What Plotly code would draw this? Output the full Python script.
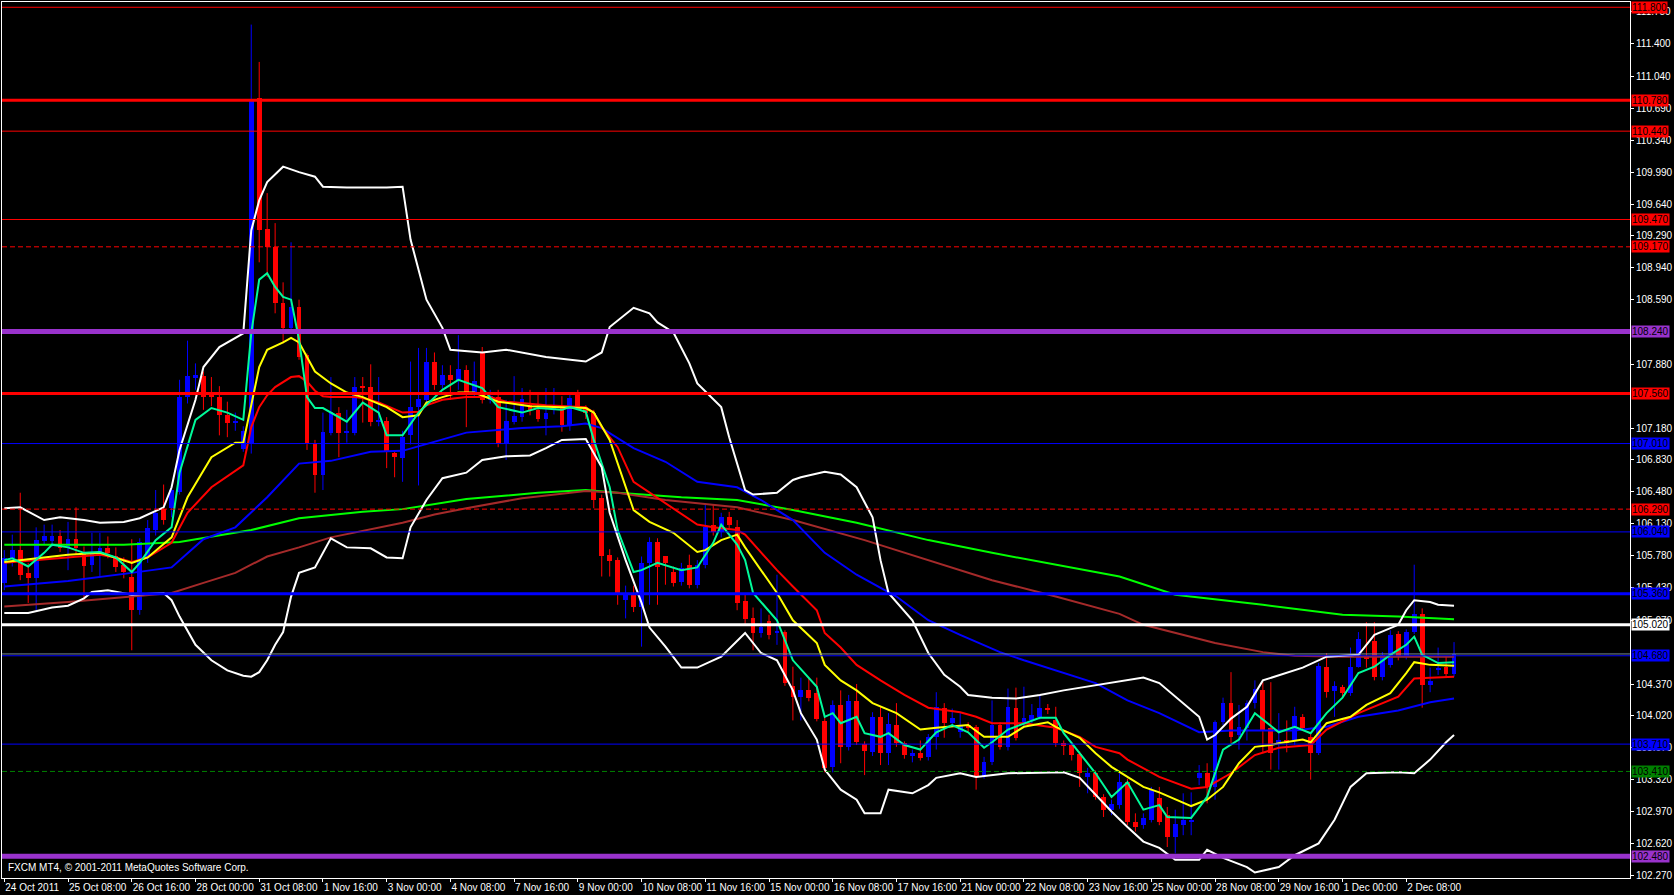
import plotly.graph_objects as go

# ---------------- data (EURJPY H4, bar index 0..182) ----------------
open_ = [105.48,105.75,105.84,105.59,105.53,105.94,105.94,105.99,105.87,105.96,
         105.82,105.68,105.81,105.86,105.78,105.68,105.55,105.18,105.76,106.06,
         106.29,106.30,106.48,107.52,107.73,107.75,107.55,107.52,107.32,107.24,
         106.95,107.00,110.80,109.37,109.17,108.55,108.28,108.51,107.98,107.02,
         106.66,107.13,107.35,107.13,107.13,107.64,107.63,107.25,107.26,106.91,
         106.85,107.10,107.41,107.49,107.90,107.65,107.76,107.71,107.82,107.58,
         108.00,107.49,107.52,107.01,107.25,107.30,107.43,107.38,107.28,107.40,
         107.42,107.20,107.57,107.41,107.35,106.41,105.79,105.73,105.29,105.37,
         105.22,105.70,105.93,105.77,105.60,105.49,105.68,105.46,105.68,106.12,
         106.04,106.20,106.09,105.28,105.10,104.93,105.06,104.93,104.94,104.35,
         104.23,104.30,104.27,103.96,103.46,104.14,103.68,104.18,103.71,103.62,
         104.01,103.61,103.92,103.72,103.59,103.61,103.57,103.79,104.11,103.94,
         103.84,103.92,103.90,103.36,103.51,103.92,103.68,104.11,103.94,103.97,
         104.01,104.11,103.97,103.72,103.70,103.60,103.35,103.39,103.13,102.99,
         103.04,103.29,102.85,102.82,102.88,103.12,102.93,102.69,102.82,102.85,
         103.34,103.39,103.24,103.95,104.16,103.81,103.89,104.16,104.30,103.89,
         103.72,103.76,103.76,104.01,103.79,103.61,104.56,104.29,104.34,104.27,
         104.56,104.67,104.84,104.45,104.58,104.92,104.67,104.94,105.14,104.36,
         104.52,104.56,104.48]
high = [105.84,106.01,106.47,105.70,106.09,106.12,106.12,106.06,106.15,106.31,
        105.88,106.03,106.03,105.99,105.87,105.76,105.96,105.97,106.17,106.50,
        106.56,106.56,107.71,108.14,107.89,107.80,107.74,107.64,107.47,107.35,
        107.20,111.61,111.20,109.76,109.43,108.78,109.22,108.59,108.00,107.05,
        107.35,107.74,107.41,107.38,107.74,107.74,107.88,107.74,107.30,106.93,
        107.15,107.91,108.06,108.06,108.01,107.87,107.87,108.20,107.87,107.91,
        108.07,107.60,107.60,107.49,107.75,107.62,107.60,107.57,107.62,107.62,
        107.53,107.57,107.60,107.43,107.38,106.45,105.85,105.76,105.45,105.45,
        105.77,105.98,105.97,105.77,105.66,105.70,105.79,105.73,106.34,106.34,
        106.25,106.26,106.17,105.35,105.21,105.20,105.13,105.57,104.96,104.56,
        104.44,104.44,104.44,104.00,104.19,104.30,104.25,104.37,103.74,104.06,
        104.12,104.05,104.16,103.74,103.65,103.75,103.82,104.28,104.16,104.10,
        104.05,103.95,103.92,103.57,104.19,103.95,104.32,104.33,104.34,104.15,
        104.25,104.15,104.12,103.75,103.73,103.63,103.45,103.42,103.16,103.10,
        103.39,103.33,102.95,102.95,103.24,103.24,103.02,102.99,103.17,103.18,
        103.48,103.50,103.97,104.22,104.50,104.14,104.19,104.41,104.39,104.39,
        104.05,103.97,104.12,104.04,103.82,104.60,104.71,104.40,104.36,104.77,
        104.94,105.05,105.05,104.72,104.96,104.95,104.97,105.68,105.20,104.55,
        104.77,104.67,104.83]
low = [105.40,105.66,105.51,105.26,105.18,105.90,105.88,105.82,105.62,105.79,
       105.29,105.60,105.55,105.75,105.60,105.53,104.74,105.13,105.70,106.00,
       106.12,106.20,106.45,107.45,107.60,107.38,107.42,107.10,107.08,107.15,
       106.92,106.90,109.00,108.84,108.44,108.11,108.22,107.93,106.94,106.47,
       106.50,107.10,106.86,107.02,107.10,107.24,107.20,107.20,106.74,106.64,
       106.59,107.00,106.55,107.45,107.60,107.60,107.49,107.60,107.19,107.52,
       107.45,107.45,106.97,106.83,107.22,107.25,107.32,107.25,107.10,107.33,
       107.14,107.15,107.38,107.28,106.30,105.55,105.55,105.24,105.09,105.16,
       104.78,105.24,105.24,105.46,105.44,105.45,105.42,105.42,105.64,106.00,
       105.98,106.08,105.18,105.02,104.74,104.88,104.86,104.80,104.35,103.97,
       103.97,104.18,103.96,103.40,103.40,103.50,103.64,103.70,103.37,103.58,
       103.48,103.48,103.68,103.55,103.51,103.53,103.53,103.65,103.78,103.90,
       103.78,103.85,103.21,103.33,103.48,103.65,103.64,103.75,103.90,103.94,
       103.98,104.04,103.68,103.59,103.53,103.24,103.17,103.10,102.91,102.93,
       103.00,102.82,102.75,102.78,102.85,102.82,102.58,102.51,102.71,102.71,
       103.26,103.06,103.10,103.92,103.72,103.65,103.75,104.10,103.61,103.43,
       103.43,103.62,103.70,103.86,103.32,103.59,104.22,104.01,104.23,104.24,
       104.55,104.55,104.41,104.41,104.55,104.63,104.64,104.92,104.11,104.28,
       104.47,104.45,104.45]
close = [105.75,105.84,105.57,105.53,105.95,106.00,105.99,105.86,105.96,105.86,
         105.67,105.81,105.86,105.81,105.66,105.60,105.18,105.93,106.08,106.25,
         106.17,106.50,107.52,107.75,107.76,107.52,107.52,107.32,107.24,107.26,
         107.15,110.78,109.35,109.17,108.55,108.28,108.51,107.96,107.02,106.66,
         107.14,107.36,107.13,107.15,107.63,107.63,107.25,107.27,106.93,106.86,
         107.08,107.41,107.50,107.90,107.65,107.76,107.71,107.83,107.57,107.70,
         107.49,107.53,107.01,107.26,107.31,107.50,107.38,107.28,107.35,107.42,
         107.21,107.51,107.41,107.35,106.39,105.78,105.72,105.37,105.37,105.22,
         105.70,105.93,105.66,105.70,105.48,105.64,105.46,105.68,106.09,106.04,
         106.20,106.12,105.26,105.08,104.93,105.00,104.91,104.94,104.38,104.23,
         104.30,104.22,103.99,103.45,104.14,103.68,104.18,103.73,103.63,104.01,
         103.61,103.93,103.72,103.59,103.61,103.56,103.79,104.12,103.94,104.00,
         103.91,103.89,103.35,103.51,103.92,103.68,104.12,103.78,104.00,104.03,
         104.11,104.08,103.72,103.70,103.59,103.39,103.39,103.13,102.99,103.05,
         103.29,102.85,102.80,102.90,103.21,102.85,102.69,102.83,102.88,102.88,
         103.39,103.24,103.95,104.16,103.79,103.90,104.16,104.32,103.86,103.61,
         103.76,103.72,104.02,103.89,103.61,104.57,104.28,104.35,104.27,104.56,
         104.86,104.65,104.45,104.69,104.91,104.67,104.94,105.14,104.36,104.40,
         104.55,104.48,104.70]

# moving averages (bar index, price)
ma_fast_i = [0,1,3,5,6,8,10,12,14,16,17,19,21,22,24,26,28,30,31,32,33,34,35,36,37,38,39,40,43,45,47,48,50,52,55,57,60,62,65,67,70,71,73,74,76,77,79,80,82,84,85,87,89,90,92,93,94,97,99,102,103,104,105,107,108,110,111,113,115,117,119,121,123,124,126,130,132,133,135,137,139,141,143,145,146,149,151,153,155,157,160,162,164,166,168,170,172,174,176,177,178,180,182]
ma_fast_v = [105.73,105.75,105.66,105.81,105.90,105.87,105.81,105.82,105.76,105.60,105.70,105.95,106.09,106.69,107.27,107.40,107.35,107.27,108.22,108.81,108.88,108.73,108.62,108.59,108.15,107.52,107.40,107.40,107.25,107.46,107.35,107.10,107.10,107.35,107.60,107.71,107.62,107.41,107.35,107.40,107.38,107.41,107.36,107.05,106.53,106.06,105.60,105.62,105.70,105.65,105.62,105.65,105.92,106.12,105.90,105.73,105.37,105.07,104.63,104.34,104.01,104.05,103.94,104.01,103.83,103.79,103.83,103.70,103.65,103.84,103.92,103.84,103.67,103.73,103.87,104.00,104.00,103.83,103.61,103.39,103.13,103.29,102.99,103.04,102.91,102.90,103.13,103.65,103.76,104.05,103.84,103.90,103.83,104.05,104.22,104.49,104.56,104.69,104.80,104.89,104.69,104.60,104.61]

ma_yellow_i = [0,8,12,16,18,21,23,26,29,30,31,32,33,35,36,37,38,39,41,43,45,48,50,52,53,55,57,59,62,66,73,74,76,78,79,81,84,87,88,90,92,93,95,97,99,102,103,105,107,109,112,115,117,121,123,126,128,131,132,135,137,139,141,143,145,149,151,153,155,157,159,160,163,164,166,169,171,174,176,177,179,182]
ma_yellow_v = [105.71,105.79,105.81,105.70,105.76,105.98,106.42,106.86,107.02,107.02,107.43,107.85,108.04,108.12,108.17,108.12,107.96,107.80,107.67,107.57,107.52,107.41,107.30,107.32,107.46,107.52,107.57,107.57,107.47,107.42,107.40,107.35,107.05,106.53,106.28,106.15,106.03,105.82,105.84,105.95,106.01,105.87,105.62,105.37,105.07,104.82,104.58,104.41,104.30,104.16,104.05,103.87,103.89,103.92,103.79,103.79,103.90,103.95,103.90,103.78,103.61,103.46,103.35,103.24,103.18,103.03,103.10,103.24,103.50,103.68,103.70,103.72,103.76,103.73,103.94,104.01,104.14,104.27,104.49,104.61,104.58,104.57]

ma_red_i = [0,8,12,14,16,18,21,23,26,30,31,32,33,34,35,36,37,38,39,40,41,44,45,47,50,52,53,55,58,61,63,68,73,74,75,77,79,81,84,87,89,92,93,95,97,99,102,103,105,107,110,113,116,120,122,124,128,132,135,137,140,141,145,149,151,154,157,160,164,166,170,175,177,179,182]
ma_red_v = [105.70,105.76,105.79,105.76,105.71,105.76,105.92,106.25,106.53,106.77,107.19,107.41,107.54,107.63,107.69,107.74,107.75,107.69,107.59,107.53,107.52,107.52,107.51,107.46,107.35,107.36,107.43,107.49,107.52,107.52,107.47,107.43,107.41,107.35,107.19,106.97,106.59,106.47,106.30,106.12,106.09,106.06,106.01,105.81,105.62,105.44,105.18,104.93,104.77,104.58,104.41,104.25,104.11,104.06,104.01,103.94,103.94,103.89,103.79,103.68,103.61,103.54,103.35,103.22,103.24,103.39,103.59,103.67,103.70,103.87,104.05,104.23,104.43,104.44,104.45]

ma_blue_i = [0,8,16,21,25,29,33,37,41,46,50,54,58,65,70,73,75,79,83,87,92,95,99,103,107,112,116,120,125,128,132,137,141,145,150,154,162,166,170,175,179,182]
ma_blue_v = [105.44,105.50,105.59,105.65,105.96,106.09,106.42,106.79,106.82,106.92,106.93,107.03,107.13,107.18,107.20,107.23,107.18,106.96,106.81,106.59,106.53,106.39,106.17,105.81,105.57,105.33,105.07,104.91,104.72,104.63,104.52,104.38,104.19,104.05,103.84,103.86,103.86,103.90,104.01,104.08,104.17,104.21]

ma_brown_i = [0,8,16,21,25,29,33,37,41,46,50,54,58,65,73,77,83,92,99,108,116,124,132,140,143,152,158,162,168,182]
ma_brown_v = [105.22,105.27,105.33,105.37,105.48,105.59,105.77,105.87,105.98,106.07,106.14,106.23,106.30,106.41,106.49,106.47,106.39,106.31,106.17,105.95,105.73,105.51,105.33,105.14,105.02,104.82,104.72,104.68,104.67,104.67]

ma_lime_i = [0,15,22,31,37,45,50,58,67,73,77,85,92,99,107,116,124,132,140,147,158,168,175,182]
ma_lime_v = [105.90,105.90,105.93,106.06,106.19,106.26,106.29,106.40,106.47,106.50,106.47,106.42,106.39,106.28,106.14,105.95,105.81,105.68,105.55,105.35,105.24,105.13,105.11,105.08]

bb_up_i = [0,2,5,7,10,12,15,17,20,21,22,24,25,27,30,31,32,33,35,37,39,40,43,48,50,51,53,55,56,60,63,68,73,75,76,79,81,82,84,86,87,90,91,93,94,97,99,100,103,105,107,109,110,111,114,116,118,120,121,124,127,130,133,136,139,143,145,147,150,151,152,154,156,158,161,163,166,170,172,175,176,177,179,180,182]
bb_up_v = [106.30,106.31,106.17,106.20,106.17,106.14,106.15,106.19,106.31,106.53,106.94,107.49,107.85,108.07,108.22,109.35,109.68,109.88,110.05,109.99,109.94,109.83,109.82,109.82,109.83,109.25,108.59,108.28,108.04,108.01,108.04,107.96,107.91,108.01,108.29,108.50,108.44,108.34,108.23,107.89,107.67,107.41,107.08,106.50,106.45,106.47,106.61,106.64,106.70,106.67,106.53,106.20,105.73,105.37,105.07,104.71,104.47,104.34,104.25,104.22,104.21,104.25,104.30,104.34,104.38,104.44,104.38,104.23,104.01,103.76,103.81,103.99,104.12,104.41,104.49,104.55,104.67,104.69,104.91,105.02,105.18,105.29,105.27,105.24,105.23]

bb_lo_i = [0,3,6,8,10,11,13,15,16,20,21,22,23,24,26,28,30,31,32,33,34,35,36,37,39,41,43,46,48,50,51,53,55,58,60,63,66,68,70,73,75,76,78,80,81,83,85,87,90,93,95,97,99,100,102,103,105,107,108,110,111,114,116,117,120,122,126,130,133,135,137,139,141,143,145,147,150,151,153,156,157,160,162,165,167,169,171,175,177,179,181,182]
bb_lo_v = [105.15,105.15,105.21,105.23,105.31,105.38,105.40,105.37,105.35,105.37,105.29,105.11,104.96,104.80,104.63,104.52,104.46,104.45,104.50,104.63,104.80,104.94,105.33,105.59,105.65,105.97,105.87,105.86,105.76,105.75,106.09,106.39,106.63,106.69,106.83,106.87,106.88,106.96,107.05,107.06,106.75,106.25,105.73,105.26,104.99,104.78,104.55,104.55,104.67,104.93,104.71,104.63,104.30,104.05,103.76,103.43,103.21,103.10,102.95,102.95,103.21,103.17,103.26,103.34,103.39,103.35,103.39,103.40,103.40,103.34,103.15,102.97,102.80,102.64,102.57,102.44,102.44,102.55,102.46,102.36,102.30,102.36,102.49,102.62,102.88,103.24,103.39,103.40,103.39,103.54,103.73,103.81]

# horizontal price levels: price, colour, width, dash
level_price = [111.80,110.78,110.44,109.47,109.17,108.24,107.56,107.01,106.29,106.04,105.36,105.02,104.68,103.71,103.41,102.48]
level_color = ["#FF0000","#FF0000","#FF0000","#FF0000","#FF0000","#9932CC","#FF0000","#0000FF","#FF0000","#0000FF","#0000FF","#FFFFFF","#0000FF","#0000FF","#008000","#9932CC"]
level_width = [1,3,1,1,1,5,3,1,1,1,3,3,1,1,1,5]
level_dash = ["solid","solid","solid","solid","dash","solid","solid","solid","dash","solid","solid","solid","solid","solid","dash","solid"]
bid_price = 104.70

y_ticks = [111.750,111.400,111.040,110.690,110.340,109.990,109.640,109.290,108.940,108.590,
           107.880,107.180,106.830,106.480,106.130,105.780,105.430,105.070,104.370,104.020,
           103.670,103.320,102.970,102.620,102.270]
x_tick_idx = list(range(0, 177, 8))
x_tick_text = ["24 Oct 2011","25 Oct 08:00","26 Oct 16:00","28 Oct 00:00","31 Oct 08:00",
               "1 Nov 16:00","3 Nov 00:00","4 Nov 08:00","7 Nov 16:00","9 Nov 00:00",
               "10 Nov 08:00","11 Nov 16:00","15 Nov 00:00","16 Nov 08:00","17 Nov 16:00",
               "21 Nov 00:00","22 Nov 08:00","23 Nov 16:00","25 Nov 00:00","28 Nov 08:00",
               "29 Nov 16:00","1 Dec 00:00","2 Dec 08:00"]

# ---------------- figure ----------------
FONT = "Liberation Sans, Arial, sans-serif"
N = len(close)
idx = list(range(N))
fig = go.Figure()

def wick_trace(sel, color):
    xs, ys = [], []
    for i in sel:
        xs += [i, i, None]
        ys += [low[i], high[i], None]
    return go.Scatter(x=xs, y=ys, mode="lines", line=dict(color=color, width=1),
                      hoverinfo="skip")

bull = [i for i in idx if close[i] >= open_[i]]
bear = [i for i in idx if close[i] < open_[i]]
fig.add_trace(wick_trace(bull, "#0000FF"))
fig.add_trace(wick_trace(bear, "#FF0000"))

def body_trace(sel, color):
    base = [min(open_[i], close[i]) for i in sel]
    h = [max(abs(close[i] - open_[i]), 0.012) for i in sel]
    return go.Bar(x=sel, y=h, base=base, width=0.6, marker=dict(color=color, line=dict(width=0)))

fig.add_trace(body_trace(bull, "#0000FF"))
fig.add_trace(body_trace(bear, "#FF0000"))

for xi, yi, col in [(ma_lime_i, ma_lime_v, "#00FF00"), (ma_brown_i, ma_brown_v, "#A52A2A"),
                    (ma_blue_i, ma_blue_v, "#0000FF"), (ma_red_i, ma_red_v, "#FF0000"),
                    (ma_yellow_i, ma_yellow_v, "#FFFF00"), (ma_fast_i, ma_fast_v, "#00FA9A"),
                    (bb_up_i, bb_up_v, "#FFFFFF"), (bb_lo_i, bb_lo_v, "#FFFFFF")]:
    fig.add_trace(go.Scatter(x=xi, y=yi, mode="lines", line=dict(color=col, width=2)))

shapes = [dict(type="line", xref="paper", x0=0, x1=1, yref="y", y0=bid_price, y1=bid_price,
               line=dict(color="#778899", width=1), layer="above")]
annotations = []
for p, c, w, d in zip(level_price, level_color, level_width, level_dash):
    shapes.append(dict(type="line", xref="paper", x0=0, x1=1, yref="y", y0=p, y1=p,
                       line=dict(color=c, width=w, dash=("5px,3px" if d == "dash" else "solid")),
                       layer="above"))
    annotations.append(dict(xref="paper", x=1, xanchor="left", xshift=1, yref="y", y=p,
                            yanchor="middle", text=f"{p:.3f}", showarrow=False,
                            bgcolor=c, borderpad=0,
                            font=dict(family=FONT, size=10, color="#000000")))
annotations.append(dict(xref="paper", x=0, xanchor="left", xshift=4, yref="paper", y=0,
                        yanchor="bottom", yshift=3, showarrow=False,
                        text="FXCM MT4, © 2001-2011 MetaQuotes Software Corp.",
                        font=dict(family=FONT, size=10, color="#FFFFFF")))

fig.update_layout(
    width=1674, height=895,
    margin=dict(l=1, r=38, t=2, b=17, pad=0),
    paper_bgcolor="#000000", plot_bgcolor="#000000",
    showlegend=False, barmode="overlay", bargap=0,
    shapes=shapes, annotations=annotations,
    font=dict(family=FONT, size=10, color="#FFFFFF"),
    xaxis=dict(range=[-0.29, 204.09], showgrid=False, zeroline=False,
               showline=True, linecolor="#FFFFFF", linewidth=1, mirror=True,
               tickmode="array", tickvals=x_tick_idx, ticktext=x_tick_text,
               ticks="outside", ticklen=3, tickcolor="#FFFFFF", tickangle=0,
               ticklabelposition="outside right",
               tickfont=dict(family=FONT, size=10, color="#FFFFFF")),
    yaxis=dict(range=[102.240, 111.858], side="right", showgrid=False, zeroline=False,
               showline=True, linecolor="#FFFFFF", linewidth=1, mirror=True,
               tickmode="array", tickvals=y_ticks, ticktext=[f"{v:.3f}" for v in y_ticks],
               ticks="outside", ticklen=3, tickcolor="#FFFFFF",
               tickfont=dict(family=FONT, size=10, color="#FFFFFF")),
)
fig.write_html("out.html", config={"displayModeBar": False},
               post_script="document.body.style.margin='0';document.body.style.overflow='hidden';")
